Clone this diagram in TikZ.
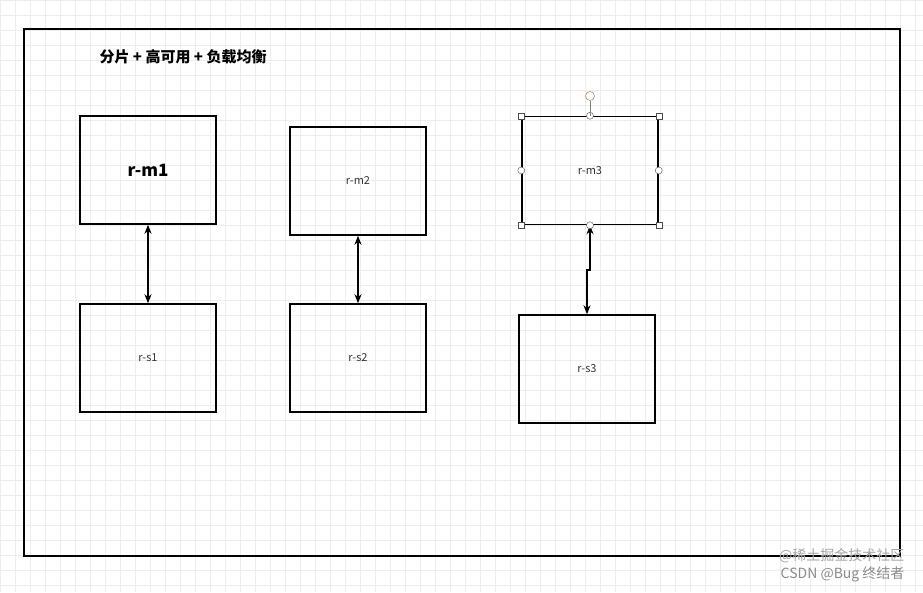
\documentclass[tikz,border=0pt]{standalone}
\usepackage{fontspec}
\setmainfont{Noto Sans CJK SC}
\usetikzlibrary{arrows.meta}
\begin{document}
\begin{tikzpicture}[
                x=1pt,y=-1pt,
                box/.style={draw,line width=1.5pt,minimum width=136pt,minimum height=108pt,inner sep=0pt,font=\fontsize{11}{13}\selectfont,text=black!80},
                handle/.style={draw=black!70,fill=white,inner sep=0pt,minimum size=6pt},
                >={Stealth[length=9pt,width=7pt]},
              ]
              \useasboundingbox (0,0) rectangle (923,592);
              \fill[white] (0,0) rectangle (923,592);
              \foreach \i in {0,15,...,923} \draw[black!7] (\i,0)--(\i,592);
              \foreach \j in {0,15,...,592} \draw[black!7] (0,\j)--(923,\j);
              \draw[line width=1.5pt] (24,29) rectangle (900,556);
              \node[anchor=west,font=\fontsize{15}{17}\selectfont\bfseries] (title) at (96,57) {分片 + 高可用 + 负载均衡};
              \node[box,font=\fontsize{17}{19}\selectfont\bfseries,text=black] (m1) at (148,170) {r-m1};
              \node[box] (m2) at (358,181) {r-m2};
              \node[box] (m3) at (590,170.5) {r-m3};
              \node[box] (s1) at (148,358) {r-s1};
              \node[box] (s2) at (358,358) {r-s2};
              \node[box] (s3) at (587,369) {r-s3};
              \draw[line width=1.5pt,<->] (m1)--(s1) ;
              \draw[line width=1.5pt,<->] (m2)--(s2) ;
              \coordinate (k1) at (590,270) ;
              \coordinate (k2) at (587,270) ;
              \draw[line width=1.5pt,<->] (m3.south)--(k1)--(k2)--(s3.north) ;
              % selection handles
              \foreach \a in {north west,north east,south west,south east}
                \node[handle] at (m3.\a) {};
              \foreach \a in {north,south,east,west}
                \node[handle,circle,minimum size=7pt] at (m3.\a) {};
              \node[handle,circle,draw=brown!80!black,minimum size=9pt] (rot) at (590,96) {};
              \draw[black!50] (rot)--(m3.north);
              \node[anchor=east,text=black!35,font=\fontsize{14}{16}\selectfont] (mark1) at (908,556) {@稀土掘金技术社区};
              \node[anchor=east,text=black!45,font=\fontsize{14}{16}\selectfont] (mark2) at (908,574) {CSDN @Bug 终结者};
              \end{tikzpicture}
\end{document}
